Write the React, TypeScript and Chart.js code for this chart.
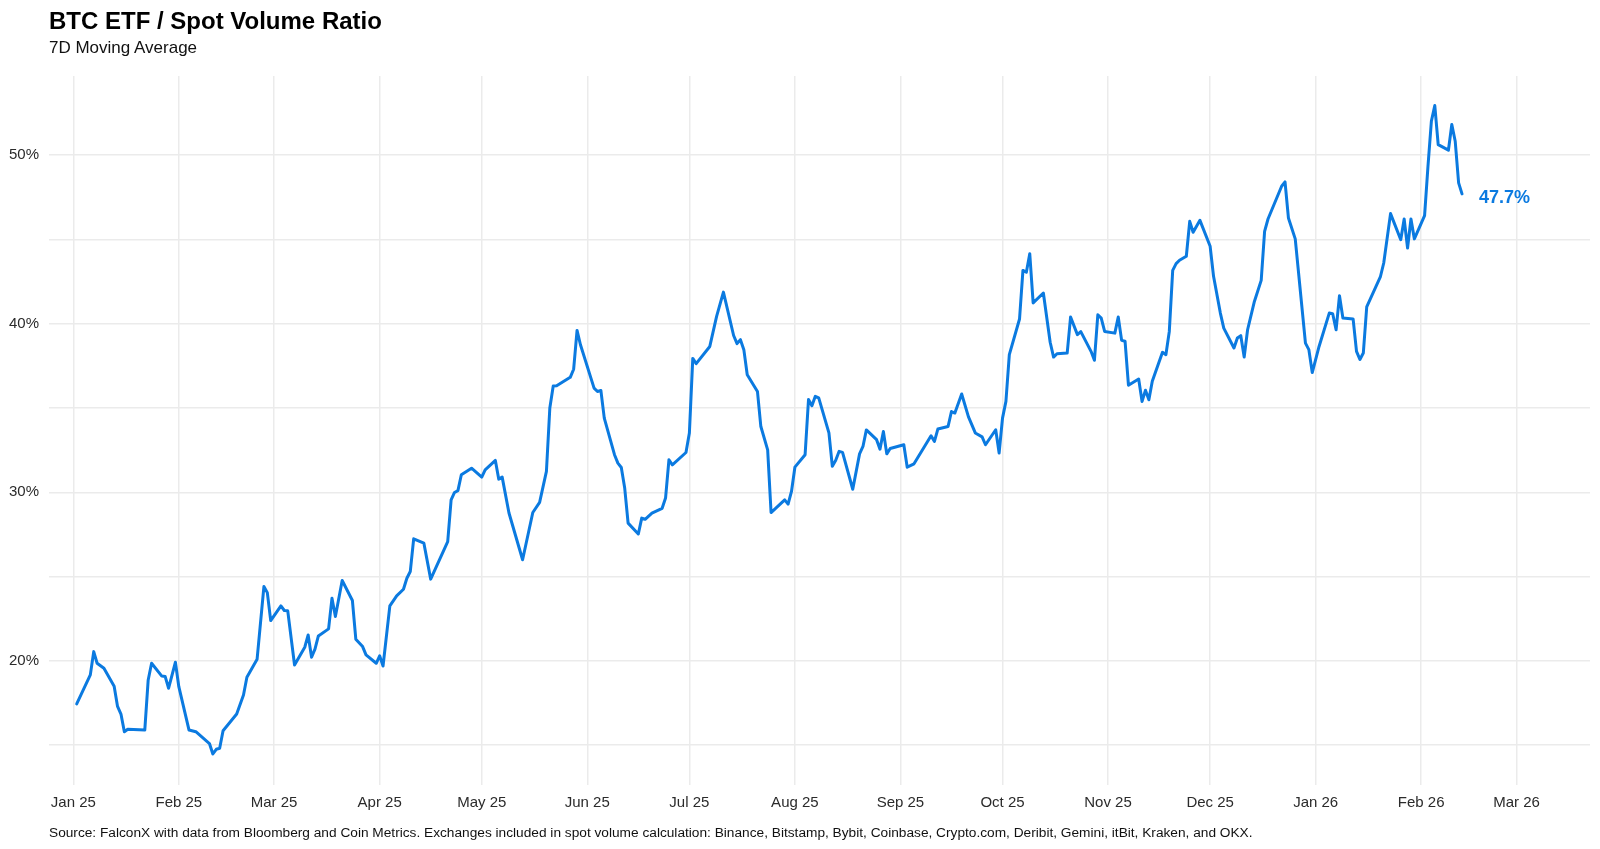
import React, { useEffect, useRef } from 'react';
import { Chart, registerables } from 'chart.js';

Chart.register(...registerables);

// ---- data ----
const dates: string[] = [
  '2025-01-02','2025-01-06','2025-01-07','2025-01-08','2025-01-10','2025-01-13','2025-01-14','2025-01-15','2025-01-16','2025-01-17',
  '2025-01-22','2025-01-23','2025-01-24','2025-01-27','2025-01-28','2025-01-29','2025-01-31','2025-02-01','2025-02-04','2025-02-06',
  '2025-02-10','2025-02-11','2025-02-12','2025-02-13','2025-02-14','2025-02-18','2025-02-20','2025-02-21','2025-02-24','2025-02-26',
  '2025-02-27','2025-02-28','2025-03-03','2025-03-04','2025-03-05','2025-03-07','2025-03-10','2025-03-11','2025-03-12','2025-03-13',
  '2025-03-14','2025-03-17','2025-03-18','2025-03-19','2025-03-21','2025-03-24','2025-03-25','2025-03-27','2025-03-28','2025-03-31',
  '2025-04-01','2025-04-02','2025-04-04','2025-04-06','2025-04-08','2025-04-09','2025-04-10','2025-04-11','2025-04-14','2025-04-16',
  '2025-04-21','2025-04-22','2025-04-23','2025-04-24','2025-04-25','2025-04-28','2025-05-01','2025-05-02','2025-05-05','2025-05-06',
  '2025-05-07','2025-05-09','2025-05-13','2025-05-16','2025-05-18','2025-05-20','2025-05-21','2025-05-22','2025-05-23','2025-05-27',
  '2025-05-28','2025-05-29','2025-05-30','2025-06-03','2025-06-04','2025-06-05','2025-06-06','2025-06-09','2025-06-10','2025-06-11',
  '2025-06-12','2025-06-13','2025-06-16','2025-06-17','2025-06-18','2025-06-20','2025-06-23','2025-06-24','2025-06-25','2025-06-26',
  '2025-06-30','2025-07-01','2025-07-02','2025-07-03','2025-07-07','2025-07-09','2025-07-11','2025-07-14','2025-07-15','2025-07-16',
  '2025-07-17','2025-07-18','2025-07-21','2025-07-22','2025-07-24','2025-07-25','2025-07-29','2025-07-30','2025-07-31','2025-08-01',
  '2025-08-04','2025-08-05','2025-08-06','2025-08-07','2025-08-08','2025-08-11','2025-08-12','2025-08-13','2025-08-14','2025-08-15',
  '2025-08-18','2025-08-20','2025-08-21','2025-08-22','2025-08-25','2025-08-26','2025-08-27','2025-08-28','2025-08-29','2025-09-02',
  '2025-09-03','2025-09-05','2025-09-10','2025-09-11','2025-09-12','2025-09-15','2025-09-16','2025-09-17','2025-09-19','2025-09-21',
  '2025-09-23','2025-09-25','2025-09-26','2025-09-29','2025-09-30','2025-10-01','2025-10-02','2025-10-03','2025-10-06','2025-10-07',
  '2025-10-08','2025-10-09','2025-10-10','2025-10-13','2025-10-15','2025-10-16','2025-10-17','2025-10-20','2025-10-21','2025-10-23',
  '2025-10-24','2025-10-27','2025-10-28','2025-10-29','2025-10-30','2025-10-31','2025-11-03','2025-11-04','2025-11-05','2025-11-06',
  '2025-11-07','2025-11-10','2025-11-11','2025-11-12','2025-11-13','2025-11-14','2025-11-17','2025-11-18','2025-11-19','2025-11-20',
  '2025-11-21','2025-11-22','2025-11-24','2025-11-25','2025-11-26','2025-11-28','2025-12-01','2025-12-02','2025-12-04','2025-12-05',
  '2025-12-08','2025-12-09','2025-12-10','2025-12-11','2025-12-12','2025-12-14','2025-12-16','2025-12-17','2025-12-18','2025-12-22',
  '2025-12-23','2025-12-24','2025-12-26','2025-12-29','2025-12-30','2025-12-31','2026-01-02','2026-01-05','2026-01-06','2026-01-07',
  '2026-01-08','2026-01-09','2026-01-12','2026-01-13','2026-01-14','2026-01-15','2026-01-16','2026-01-20','2026-01-21','2026-01-23',
  '2026-01-26','2026-01-27','2026-01-28','2026-01-29','2026-01-30','2026-02-02','2026-02-03','2026-02-04','2026-02-05','2026-02-06',
  '2026-02-09','2026-02-10','2026-02-11','2026-02-12','2026-02-13',
];

const ratioPct: number[] = [
  17.45,19.17,20.55,19.86,19.56,18.5,17.3,16.85,15.8,15.95,
  15.9,18.87,19.86,19.1,19.07,18.38,19.92,18.47,15.9,15.8,
  15.1,14.48,14.76,14.82,15.86,16.85,17.98,19.03,20.1,24.41,
  24.05,22.39,23.26,22.99,22.97,19.76,20.81,21.54,20.22,20.7,
  21.48,21.9,23.72,22.63,24.77,23.58,21.29,20.85,20.36,19.86,
  20.3,19.7,23.26,23.86,24.25,24.9,25.3,27.24,26.98,24.85,
  27.08,29.55,29.99,30.1,31.04,31.43,30.9,31.33,31.89,30.78,
  30.9,28.77,26.0,28.8,29.4,31.24,35.0,36.3,36.32,36.82,
  37.3,39.6,38.75,36.18,35.98,36.04,34.4,32.23,31.73,31.47,
  30.25,28.17,27.53,28.47,28.4,28.77,29.05,29.66,31.93,31.63,
  32.36,33.51,37.94,37.63,38.65,40.43,41.87,39.3,38.82,39.05,
  38.46,36.97,35.98,33.9,32.52,28.8,29.55,29.3,30.05,31.49,
  32.23,35.5,35.13,35.69,35.6,33.52,31.54,31.9,32.43,32.37,
  30.18,32.28,32.72,33.7,33.12,32.56,33.61,32.28,32.6,32.82,
  31.49,31.69,33.35,33.02,33.75,33.9,34.79,34.7,35.83,34.47,
  33.52,33.29,32.82,33.71,32.33,34.4,35.39,38.16,40.28,43.16,
  43.05,44.15,41.23,41.82,38.9,38.02,38.22,38.26,40.4,39.35,
  39.53,38.36,37.83,40.53,40.33,39.54,39.44,40.4,39.01,38.96,
  36.35,36.72,35.39,36.05,35.49,36.58,38.3,38.16,39.54,43.16,
  43.56,43.76,44.0,46.07,45.42,46.13,44.59,42.81,40.63,39.74,
  38.56,39.15,39.29,38.02,39.64,41.32,42.57,45.48,46.21,48.15,
  48.41,46.27,45.03,38.85,38.46,37.1,38.65,40.63,40.59,39.64,
  41.66,40.34,40.28,38.36,37.88,38.26,40.99,42.77,43.6,46.53,
  44.98,46.21,44.49,46.21,45.03,46.41,49.34,52.01,52.94,50.62,
  50.29,51.81,50.82,48.35,47.7,
];

const monthTickDates: string[] = [
  '2025-01-01','2025-02-01','2025-03-01','2025-04-01','2025-05-01','2025-06-01','2025-07-01','2025-08-01',
  '2025-09-01','2025-10-01','2025-11-01','2025-12-01','2026-01-01','2026-02-01','2026-03-01',
];
const monthTickLabels: string[] = [
  'Jan 25','Feb 25','Mar 25','Apr 25','May 25','Jun 25','Jul 25','Aug 25',
  'Sep 25','Oct 25','Nov 25','Dec 25','Jan 26','Feb 26','Mar 26',
];
const yTickValues: number[] = [15, 20, 25, 30, 35, 40, 45, 50];
const yLabelledTicks: number[] = [20, 30, 40, 50];
const lastValueLabel = '47.7%';

const titleText = 'BTC ETF / Spot Volume Ratio';
const subtitleText = '7D Moving Average';
const sourceText =
  'Source: FalconX with data from Bloomberg and Coin Metrics. Exchanges included in spot volume calculation: Binance, Bitstamp, Bybit, Coinbase, Crypto.com, Deribit, Gemini, itBit, Kraken, and OKX.';

const LINE_COLOR = '#0b7ae0';
const GRID_COLOR = '#ebebeb';
const FONT = '"Liberation Sans", Arial, Helvetica, sans-serif';

function dayIndex(iso: string): number {
  const [y, m, d] = iso.split('-').map(Number);
  return (Date.UTC(y, m - 1, d) - Date.UTC(2025, 0, 1)) / 86400000;
}

const lastLabelPlugin = {
  id: 'lastLabel',
  afterDatasetsDraw(chart: any) {
    const meta = chart.getDatasetMeta(0);
    const pts = meta.data;
    if (!pts || !pts.length) return;
    const p = pts[pts.length - 1];
    const ctx = chart.ctx;
    ctx.save();
    ctx.font = `bold 18px ${FONT}`;
    ctx.fillStyle = LINE_COLOR;
    ctx.textAlign = 'left';
    ctx.textBaseline = 'middle';
    ctx.fillText(lastValueLabel, p.x + 17, p.y + 4);
    ctx.restore();
  },
};

export default function App() {
  const canvasRef = useRef<HTMLCanvasElement | null>(null);

  useEffect(() => {
    const canvas = canvasRef.current;
    if (!canvas) return;
    const points = dates.map((d, i) => ({ x: dayIndex(d), y: ratioPct[i] }));
    const monthDays = monthTickDates.map(dayIndex);

    const chart = new Chart(canvas, {
      type: 'line',
      data: {
        datasets: [
          {
            data: points,
            borderColor: LINE_COLOR,
            borderWidth: 3,
            pointRadius: 0,
            tension: 0,
            borderJoinStyle: 'round',
            borderCapStyle: 'round',
            fill: false,
          },
        ],
      },
      options: {
        animation: false,
        responsive: false,
        events: [],
        layout: { padding: { top: 76, right: 10, left: 0, bottom: 0 } },
        plugins: {
          legend: { display: false },
          tooltip: { enabled: false },
          title: { display: false },
        },
        scales: {
          x: {
            type: 'linear',
            min: -7.14,
            max: 445.6,
            bounds: 'data',
            grid: { color: GRID_COLOR, lineWidth: 1.5, drawTicks: false },
            border: { display: false },
            afterBuildTicks: (scale: any) => {
              scale.ticks = monthDays.map((v) => ({ value: v }));
            },
            afterFit: (scale: any) => {
              scale.height = 64;
            },
            ticks: {
              autoSkip: false,
              maxRotation: 0,
              minRotation: 0,
              padding: 9,
              color: '#2b2b2b',
              font: { family: FONT, size: 15 },
              callback: (_v: any, i: number) => monthTickLabels[i],
            },
          },
          y: {
            type: 'linear',
            min: 12.64,
            max: 54.69,
            bounds: 'data',
            grid: { color: GRID_COLOR, lineWidth: 1.5, drawTicks: false },
            border: { display: false },
            afterBuildTicks: (scale: any) => {
              scale.ticks = yTickValues.map((v) => ({ value: v }));
            },
            afterFit: (scale: any) => {
              scale.width = 49;
            },
            ticks: {
              autoSkip: false,
              padding: 10,
              color: '#2b2b2b',
              font: { family: FONT, size: 15 },
              callback: (v: any) => (yLabelledTicks.includes(Number(v)) ? `${v}%` : ''),
            },
          },
        },
      },
      plugins: [lastLabelPlugin],
    } as any);

    return () => chart.destroy();
  }, []);

  return (
    <div
      style={{
        position: 'fixed',
        left: 0,
        top: 0,
        width: 1600,
        height: 849,
        background: '#ffffff',
        fontFamily: FONT,
        overflow: 'hidden',
      }}
    >
      <canvas
        ref={canvasRef}
        width={1600}
        height={849}
        style={{ position: 'absolute', left: 0, top: 0, width: 1600, height: 849 }}
      />
      <div
        style={{
          position: 'absolute',
          left: 49,
          top: 9,
          fontSize: 24,
          lineHeight: '24px',
          fontWeight: 'bold',
          color: '#000',
          whiteSpace: 'nowrap',
        }}
      >
        {titleText}
      </div>
      <div
        style={{
          position: 'absolute',
          left: 49,
          top: 38.5,
          fontSize: 17,
          lineHeight: '17px',
          color: '#111',
          whiteSpace: 'nowrap',
        }}
      >
        {subtitleText}
      </div>
      <div
        style={{
          position: 'absolute',
          left: 49,
          top: 825.5,
          fontSize: 13.7,
          lineHeight: '13.7px',
          color: '#111',
          whiteSpace: 'nowrap',
        }}
      >
        {sourceText}
      </div>
    </div>
  );
}
